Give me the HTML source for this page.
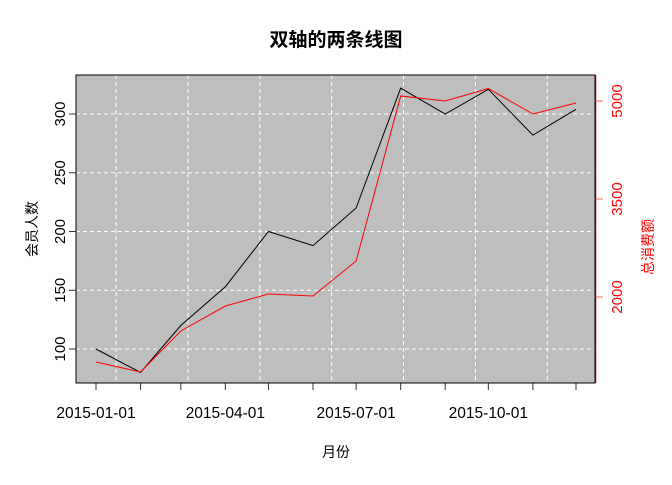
<!DOCTYPE html>
<html><head><meta charset="utf-8"><style>
body{margin:0;background:#fff;}
svg text{font-family:"Liberation Sans","Noto Sans CJK SC",sans-serif;}
</style></head><body>
<svg id="c" width="672" height="480" xmlns="http://www.w3.org/2000/svg">
<rect x="76" y="75" width="519" height="308" fill="#bebebe"/>
<g id="grid"></g><g id="lines"></g><g id="axes"></g>
<rect x="76" y="75" width="519" height="308" fill="none" stroke="#000" stroke-width="1"/>
<text x="336" y="46" text-anchor="middle" font-size="19" font-weight="bold">双轴的两条线图</text>
<text x="336" y="457" text-anchor="middle" font-size="14">月份</text>
<text transform="translate(37,229) rotate(-90)" text-anchor="middle" font-size="14">会员人数</text>
<text transform="translate(653,247) rotate(-90)" text-anchor="middle" font-size="14" fill="#f00">总消费额</text>
</svg>
<script>
const months=["2015-01-01","2015-02-01","2015-03-01","2015-04-01","2015-05-01","2015-06-01","2015-07-01","2015-08-01","2015-09-01","2015-10-01","2015-11-01","2015-12-01"];
const members=[100,80,120,153,200,188,220,322,300,321,282,304];
const spend=[1005,852,1480,1862,2046,2015,2551,5077,5000,5190,4801,4969];
const yTicks=[100,150,200,250,300];
const y2Ticks=[2000,3500,5000];
const xLabels=["2015-01-01","2015-04-01","2015-07-01","2015-10-01"];
const NS="http://www.w3.org/2000/svg";
const t0=Date.UTC(2015,0,1);
function day(s){const p=s.split('-');return (Date.UTC(+p[0],+p[1]-1,+p[2])-t0)/864e5;}
function X(s){return 96+day(s)*480/334;}
function Y(v){return 349-(v-100)*1.175;}
function Y2(v){return 297-(v-2000)*98/1500;}
function mk(p,tag,a){const e=document.createElementNS(NS,tag);for(const k in a)e.setAttribute(k,a[k]);document.getElementById(p).appendChild(e);return e;}
// grid
for(let d=14;d<=345;d+=50){const x=96+d*480/334;
 const g=mk('grid','line',{x1:x,x2:x,y1:75,y2:383,stroke:'#fff','stroke-dasharray':'4,3','stroke-width':1});
 
 }
yTicks.forEach(v=>{const g=mk('grid','line',{x1:76,x2:595,y1:Y(v),y2:Y(v),stroke:'#fff','stroke-dasharray':'4,3','stroke-width':1});
 
 });
// lines
const p1=mk('lines','polyline',{points:months.map((m,i)=>X(m)+','+Y(members[i])).join(' '),fill:'none',stroke:'#000','stroke-width':1});


const p2=mk('lines','polyline',{points:months.map((m,i)=>X(m)+','+Y2(spend[i])).join(' '),fill:'none',stroke:'#f00','stroke-width':1});


// x axis
months.forEach(m=>{const t=mk('axes','line',{x1:X(m),x2:X(m),y1:383,y2:390,stroke:'#333'});
 
 });
xLabels.forEach(m=>{const t=mk('axes','text',{x:X(m),y:418,'text-anchor':'middle','font-size':'15.5'});t.textContent=m;
 
 });
// left axis
yTicks.forEach(v=>{const t=mk('axes','line',{x1:69,x2:76,y1:Y(v),y2:Y(v),stroke:'#333'});
 
 
 const l=mk('axes','text',{transform:`translate(65,${Y(v)}) rotate(-90)`,'text-anchor':'middle','font-size':'15'});l.textContent=v;
 
 });
// right axis
const ax=mk('axes','line',{x1:595.5,x2:595.5,y1:75,y2:383,stroke:'#d00','stroke-width':1.5});


y2Ticks.forEach(v=>{const t=mk('axes','line',{x1:595,x2:603,y1:Y2(v),y2:Y2(v),stroke:'#f66'});
 
 
 const l=mk('axes','text',{transform:`translate(622,${Y2(v)}) rotate(-90)`,'text-anchor':'middle','font-size':'15',fill:'#f00'});l.textContent=v;
 
 });
</script>
</body></html>
